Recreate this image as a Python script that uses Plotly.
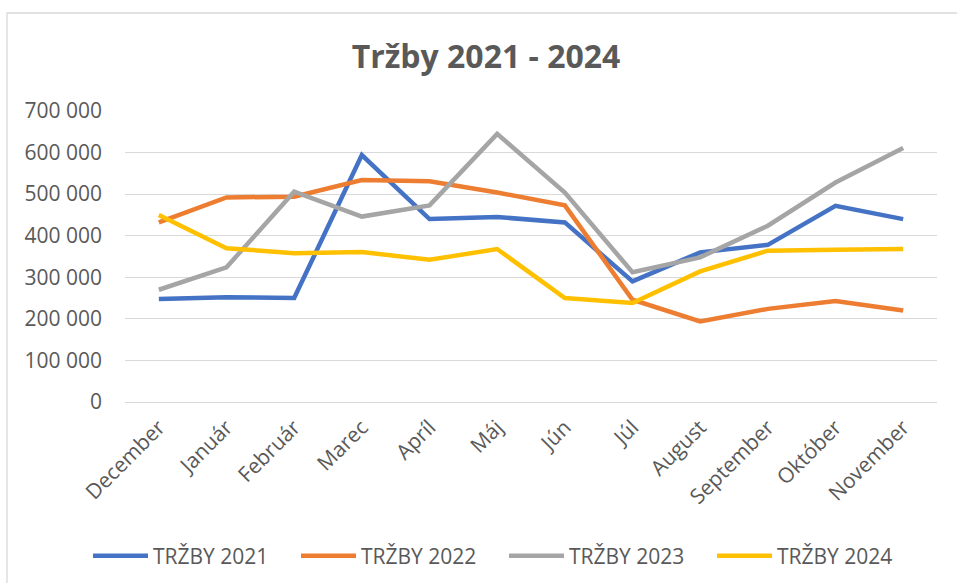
import plotly.graph_objects as go

months = ["December", "Január", "Február", "Marec", "Apríl", "Máj", "Jún",
          "Júl", "August", "September", "Október", "November"]
trzby_2021 = [248000, 252000, 250000, 594000, 440000, 445000, 432000,
              290000, 360000, 378000, 472000, 440000]
trzby_2022 = [432000, 492000, 494000, 534000, 531000, 504000, 473000,
              246000, 194000, 224000, 243000, 220000]
trzby_2023 = [270000, 324000, 506000, 446000, 473000, 645000, 504000,
              312000, 348000, 424000, 528000, 611000]
trzby_2024 = [450000, 370000, 358000, 361000, 342000, 368000, 250000,
              238000, 314000, 364000, 366000, 368000]

series = [
    ("TRŽBY 2021", trzby_2021, "#4472C4"),
    ("TRŽBY 2022", trzby_2022, "#ED7D31"),
    ("TRŽBY 2023", trzby_2023, "#A5A5A5"),
    ("TRŽBY 2024", trzby_2024, "#FFC000"),
]

FONT = "Open Sans"
TXT = "#595959"

fig = go.Figure()
for name, vals, col in series:
    fig.add_trace(go.Scatter(
        x=months, y=vals, name=name, mode="lines",
        line=dict(color=col, width=4.5),
    ))

W, H = 957, 583
L, R, T, B = 125, 20, 111, 181
pw, ph = W - L - R, H - T - B

def px_x(p):
    return (p - L) / pw

def px_y(p):
    return (H - B - p) / ph

fig.update_layout(
    width=W, height=H,
    margin=dict(l=L, r=R, t=T, b=B, autoexpand=False),
    paper_bgcolor="white", plot_bgcolor="white",
    separators=", ",
    font=dict(family=FONT, color=TXT, size=21),
    title=dict(text="<b>Tržby 2021 - 2024</b>", x=486 / W, xanchor="center",
               y=1 - 57 / H, yanchor="middle", yref="container",
               font=dict(family=FONT, size=32, color=TXT)),
    showlegend=True,
    legend=dict(orientation="h", x=px_x(88), xanchor="left",
                y=px_y(556), yanchor="middle",
                entrywidth=138, entrywidthmode="pixels",
                itemwidth=55,
                font=dict(family=FONT, size=21, color=TXT),
                bgcolor="rgba(0,0,0,0)"),
    xaxis=dict(
        type="category", range=[-0.5, len(months) - 0.5],
        showgrid=False, showline=False, zeroline=False,
        tickangle=-45, tickfont=dict(family=FONT, size=21, color=TXT),
        ticks="", ticklabelstandoff=8, fixedrange=True, automargin=False,
    ),
    yaxis=dict(
        range=[0, 700000], dtick=100000, tickformat=",d",
        showgrid=True, gridcolor="#D9D9D9", gridwidth=1.3,
        zeroline=True, zerolinecolor="#D9D9D9", zerolinewidth=1.3,
        showline=False, ticks="",
        tickfont=dict(family=FONT, size=21, color=TXT),
        ticklabelstandoff=22, fixedrange=True, automargin=False,
    ),
    shapes=[dict(
        type="rect", xref="paper", yref="paper",
        x0=px_x(7), x1=px_x(W + 10), y0=px_y(H + 10), y1=px_y(13),
        line=dict(color="#D9D9D9", width=1.3), fillcolor="rgba(0,0,0,0)",
        layer="below",
    )],
)

fig.write_html(
    "out.html",
    config={"displayModeBar": False},
    post_script="document.body.style.margin='0';document.body.style.overflow='hidden';",
)
